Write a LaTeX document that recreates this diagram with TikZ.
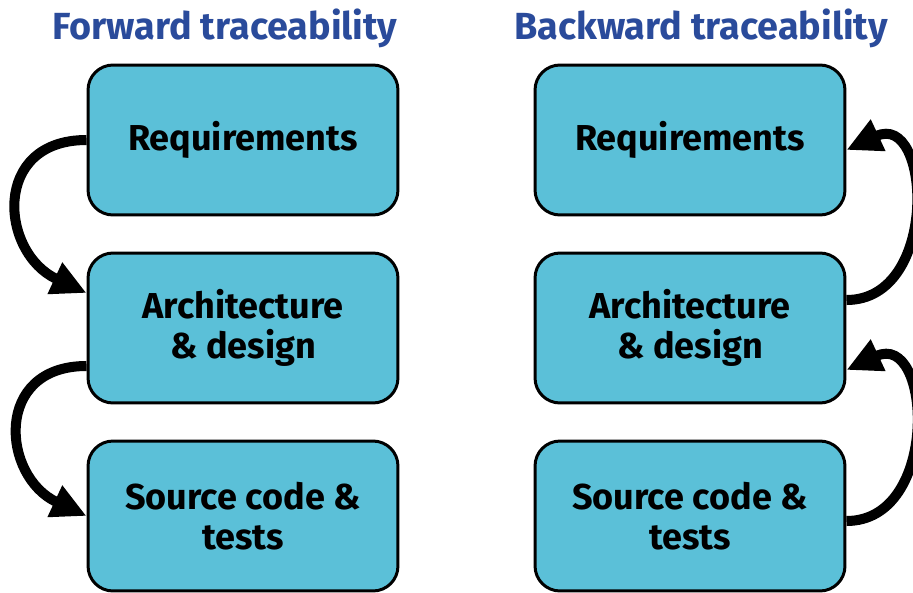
\documentclass[tikz,border=0pt]{standalone}
\usepackage{fontspec}
\setmainfont{Fira Sans}
\usetikzlibrary{arrows.meta}
\definecolor{boxfill}{HTML}{5BC0D8}
\definecolor{titleblue}{HTML}{2A4B9B}

\begin{document}
\begin{tikzpicture}[
			x=0.02cm, y=-0.02cm,
			stage/.style={draw, line width=1.7pt, rounded corners=0.5cm, fill=boxfill,
				minimum width=6.2cm, minimum height=3cm, align=center,
				font=\fontsize{20.5}{23}\selectfont\bfseries},
			heading/.style={anchor=base, text=titleblue, font=\fontsize{21.5}{24}\selectfont\bfseries},
			trace/.style={line width=5.7pt, -{Triangle[length=0.7cm, width=0.65cm]}}
			]
			\useasboundingbox (0,0) rectangle (913,592);
			% column headings
			\node[heading] (fwd) at (225,39) {Forward traceability};
			\node[heading] (bwd) at (701,39) {Backward traceability};
			% forward column
			\node[stage] (fwd-req)  at (243,140) {Requirements};
			\node[stage] (fwd-arch) at (243,328) {Architecture\\\& design};
			\node[stage] (fwd-src)  at (243,516) {Source code \&\\tests};
			% backward column
			\node[stage] (bwd-req)  at (690,140) {Requirements};
			\node[stage] (bwd-arch) at (690,328) {Architecture\\\& design};
			\node[stage] (bwd-src)  at (690,516) {Source code \&\\tests};
			% links, going down on the left, up on the right
			\draw[trace] (fwd-req.west) to[out=180, in=155, looseness=1.6] ([yshift=0.7cm]fwd-arch.west);
			\draw[trace] ([yshift=-0.76cm]fwd-arch.west) to[out=180, in=155, looseness=1.6] (fwd-src.west);
			\draw[trace] ([yshift=0.56cm]bwd-arch.east) to[out=0, in=25, looseness=1.6] ([yshift=-0.2cm]bwd-req.east);
			\draw[trace] ([yshift=-0.1cm]bwd-src.east) to[out=0, in=25, looseness=1.6] ([yshift=-0.84cm]bwd-arch.east);
		\end{tikzpicture}
\end{document}
